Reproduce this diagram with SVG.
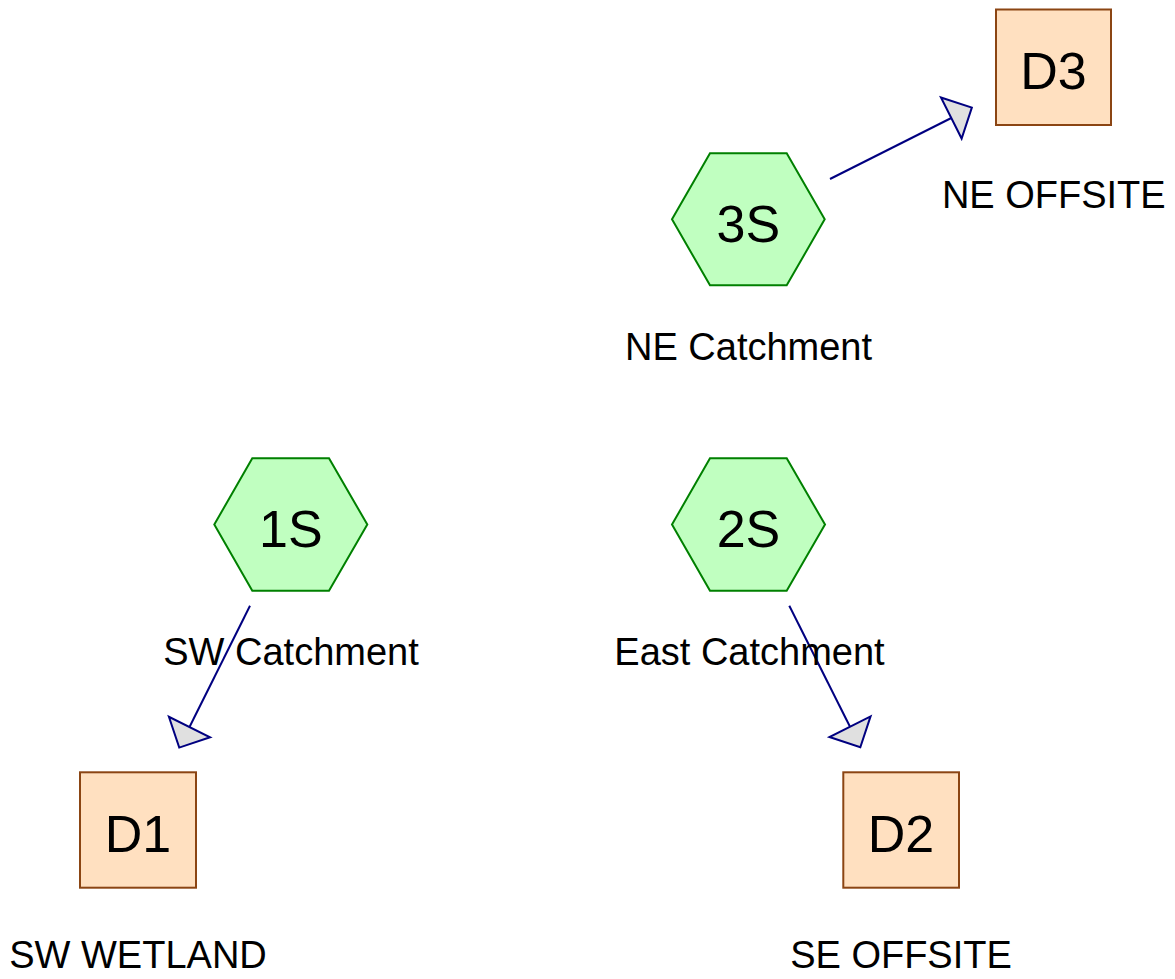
<svg xmlns="http://www.w3.org/2000/svg" width="1175" height="979" viewBox="0 0 1175 979">
  <style>
    .sub { fill: #C0FFC0; stroke: #008000; stroke-width: 2; }
    .link { fill: #FFE0C0; stroke: #8B4513; stroke-width: 2; }
    .id { font-family: "Liberation Sans", Arial, sans-serif; font-size: 52px; fill: #000; text-anchor: middle; }
    .lbl { font-family: "Liberation Sans", Arial, sans-serif; font-size: 38px; fill: #000; text-anchor: middle; }
    .flow { stroke: #000080; stroke-width: 2; fill: none; marker-end: url(#head); }
  </style>
  <defs>
    <marker id="head" markerUnits="userSpaceOnUse" viewBox="-2 -26 28 52" markerWidth="28" markerHeight="52" refX="0" refY="0" orient="auto">
      <path d="M0,-23 L23,0 L0,23 Z" fill="#E0E0E0" stroke="#000080" stroke-width="2" stroke-linejoin="miter"/>
    </marker>
  </defs>

  <rect width="1175" height="979" fill="#FFFFFF"/>

  <!-- flow connectors -->
  <g id="connectors">
    <line class="flow" x1="830" y1="179" x2="951.3" y2="118"/>
    <line class="flow" x1="250" y1="605.7" x2="189.5" y2="727"/>
    <line class="flow" x1="789.3" y1="605.7" x2="850" y2="726.7"/>
  </g>

  <!-- subcatchments -->
  <g id="node-3S">
    <polygon class="sub" points="672,219.3 710,153.3 786.7,153.3 824.7,219.3 786.7,285.3 710,285.3"/>
    <text class="id" x="748.3" y="241.5">3S</text>
    <text class="lbl" x="748.5" y="360">NE Catchment</text>
  </g>
  <g id="node-1S">
    <polygon class="sub" points="214.3,524.5 252.3,458.3 329,458.3 367.3,524.5 329,590.7 252.3,590.7"/>
    <text class="id" x="290.8" y="546.5">1S</text>
    <text class="lbl" x="291" y="665">SW Catchment</text>
  </g>
  <g id="node-2S">
    <polygon class="sub" points="672,524.5 710,458.3 786.7,458.3 825,524.5 786.7,590.7 710,590.7"/>
    <text class="id" x="748.5" y="546.5">2S</text>
    <text class="lbl" x="749.5" y="665">East Catchment</text>
  </g>

  <!-- design points -->
  <g id="node-D3">
    <rect class="link" x="996" y="9.5" width="115" height="115.5"/>
    <text class="id" x="1053.5" y="89.3">D3</text>
    <text class="lbl" x="1053.8" y="208.3">NE OFFSITE</text>
  </g>
  <g id="node-D1">
    <rect class="link" x="80" y="772.3" width="116" height="115.4"/>
    <text class="id" x="138" y="852.3">D1</text>
    <text class="lbl" x="138" y="968.3">SW WETLAND</text>
  </g>
  <g id="node-D2">
    <rect class="link" x="843.3" y="772.3" width="115.7" height="115.4"/>
    <text class="id" x="901" y="852.3">D2</text>
    <text class="lbl" x="901" y="967.5">SE OFFSITE</text>
  </g>
</svg>
